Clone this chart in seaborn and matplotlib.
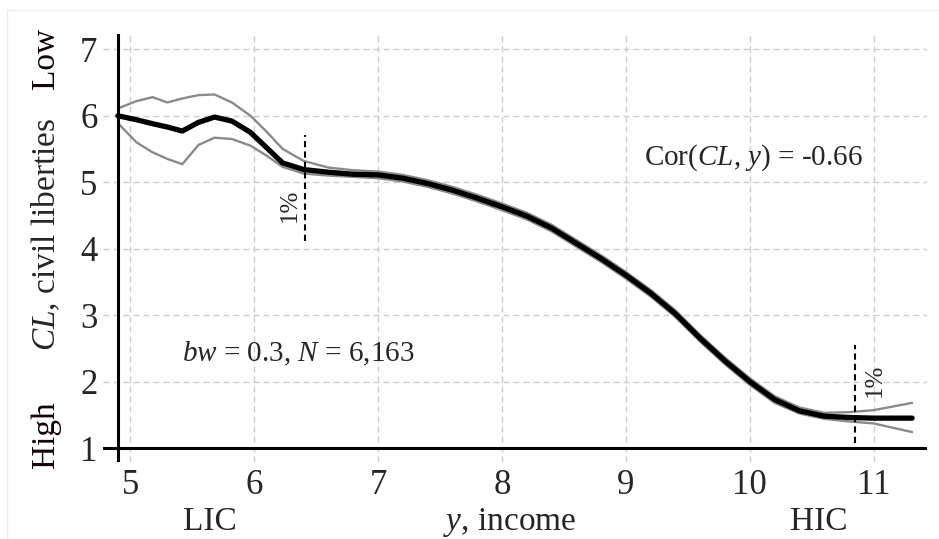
import numpy as np
import pandas as pd
import matplotlib
matplotlib.use("Agg")
from matplotlib import pyplot as plt
from matplotlib import transforms
from matplotlib.lines import Line2D
import seaborn as sns

# income grid (log), local fit of civil liberties and its band
income = [4.9, 5.05, 5.18, 5.3, 5.42, 5.55, 5.68, 5.82, 5.97, 6.1, 6.23, 6.4, 6.6, 6.8,
          7.0, 7.2, 7.4, 7.6, 7.8, 8.0, 8.2, 8.4, 8.6, 8.8, 9.0, 9.2, 9.4, 9.6, 9.8,
          10.0, 10.2, 10.4, 10.6, 10.8, 11.0, 11.31]
cl_fit = [6.00, 5.94, 5.88, 5.83, 5.77, 5.90, 5.98, 5.92, 5.75, 5.52, 5.29, 5.19, 5.15, 5.12,
          5.11, 5.06, 4.98, 4.88, 4.76, 4.63, 4.49, 4.31, 4.08, 3.85, 3.60, 3.33, 3.02, 2.65, 2.31,
          2.00, 1.73, 1.56, 1.48, 1.46, 1.45, 1.45]
cl_upper = [6.11, 6.22, 6.28, 6.20, 6.26, 6.31, 6.32, 6.20, 6.00, 5.76, 5.50, 5.32, 5.22, 5.18,
            5.16, 5.11, 5.03, 4.93, 4.81, 4.68, 4.54, 4.36, 4.13, 3.90, 3.65, 3.38, 3.07, 2.70, 2.36,
            2.05, 1.78, 1.61, 1.53, 1.54, 1.57, 1.68]
cl_lower = [5.89, 5.60, 5.45, 5.35, 5.27, 5.56, 5.67, 5.65, 5.55, 5.40, 5.23, 5.13, 5.10, 5.08,
            5.06, 5.01, 4.93, 4.83, 4.71, 4.58, 4.44, 4.26, 4.03, 3.80, 3.55, 3.28, 2.97, 2.60, 2.26,
            1.95, 1.68, 1.52, 1.44, 1.40, 1.37, 1.24]

# 1% cut-off markers
pct_x = [6.41, 10.85]
pct_lo = [4.11, 1.08]
pct_hi = [5.71, 2.55]

xticks = [5, 6, 7, 8, 9, 10, 11]
yticks = [1, 2, 3, 4, 5, 6, 7]

df = pd.DataFrame({"income": income, "fit": cl_fit, "upper": cl_upper, "lower": cl_lower})

sns.set_style("white")
plt.rcParams['font.family'] = ['Liberation Serif', 'DejaVu Serif']
plt.rcParams['mathtext.fontset'] = 'custom'
plt.rcParams['mathtext.rm'] = 'Liberation Serif'
plt.rcParams['mathtext.it'] = 'Liberation Serif:italic'

fig = plt.figure(figsize=(9.39, 5.39), dpi=100)
ax = fig.add_axes([103 / 939, 1 - 462 / 539, (927 - 103) / 939, (462 - 34) / 539])

# grid
for xt in xticks:
    ax.axvline(xt, color='#cccccc', lw=1.0, ls=(0, (4.3, 2.9)), zorder=0)
for yt in yticks:
    ax.axhline(yt, color='#cccccc', lw=1.0, ls=(0, (4.3, 2.9)), zorder=0)

sns.lineplot(data=df, x="income", y="upper", ax=ax, color='#8a8a8a', lw=1.7, zorder=2)
sns.lineplot(data=df, x="income", y="lower", ax=ax, color='#8a8a8a', lw=1.7, zorder=2)
sns.lineplot(data=df, x="income", y="fit", ax=ax, color='black', lw=3.8, zorder=3)

ax.vlines(pct_x, pct_lo, pct_hi, colors='black', lw=1.5, linestyles=(0, (3, 2)), zorder=4)
ax.text(6.29, 4.65, "1%", rotation=90, ha='center', va='center', fontsize=18,
        family='Liberation Serif')
ax.text(11.01, 2.02, "1%", rotation=90, ha='center', va='center', fontsize=18,
        family='Liberation Serif')

# axis lines (Stata style)
ax.axvline(4.9, color='black', lw=2.2, zorder=5)
ax.axhline(1, color='black', lw=2.2, zorder=5)
for s in ax.spines.values():
    s.set_visible(False)

ax.set_xlim(4.78, 11.43)
ax.set_ylim(0.79, 7.23)
ax.set_xticks(xticks)
ax.set_yticks(yticks)
ax.tick_params(axis='both', length=0, labelsize=25)
ax.tick_params(axis='y', pad=4)
ax.tick_params(axis='x', pad=5)
ax.set_xlabel("")
ax.set_ylabel("")

ax.text(9.15, 5.26, r"Cor($\mathit{CL}$, $\mathit{y}$) = -0.66", fontsize=21, ha='left', va='baseline')
ax.text(5.42, 2.31, r"$\mathit{bw}$ = 0.3, $\mathit{N}$ = 6,163", fontsize=21, ha='left', va='baseline')

# x axis captions
bx = transforms.blended_transform_factory(ax.transData, ax.transAxes)
ax.text(5.645, -0.159, "LIC", transform=bx, ha='center', va='baseline', fontsize=24)
ax.text(8.06, -0.159, r"$\mathit{y}$, income", transform=bx, ha='center', va='baseline', fontsize=24)
ax.text(10.56, -0.159, "HIC", transform=bx, ha='center', va='baseline', fontsize=24)

# y axis captions
by = transforms.blended_transform_factory(fig.transFigure, ax.transData)
ycol = '#14030a'
fig.text(0.049, 6.86, "Low", transform=by, rotation=90, ha='center', va='center', fontsize=24, color=ycol)
fig.text(0.049, 4.22, r"$\mathit{CL}$, civil liberties", transform=by, rotation=90,
         ha='center', va='center', fontsize=24)
fig.text(0.049, 1.20, "High", transform=by, rotation=90, ha='center', va='center', fontsize=24, color=ycol)

# faint outer frame
fig.add_artist(Line2D([7 / 939, 7 / 939], [0, 1 - 10 / 539], transform=fig.transFigure, color='#e6eded', lw=1))
fig.add_artist(Line2D([7 / 939, 1], [1 - 10 / 539, 1 - 10 / 539], transform=fig.transFigure, color='#e6eded', lw=1))

fig.savefig("out.png", dpi=100)
